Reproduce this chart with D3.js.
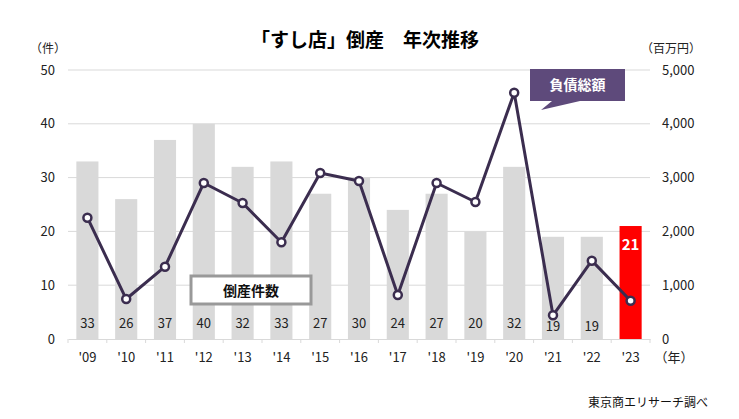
<!DOCTYPE html>
<html><head><meta charset="utf-8">
<script src="https://cdn.jsdelivr.net/npm/d3@7"></script>
<style>body{margin:0;background:#fff;} svg{display:block;font-family:"Noto Sans CJK JP","Noto Sans",sans-serif;}</style>
</head><body>
<svg id="c" width="739" height="419"></svg>
<script>
const years = ["'09","'10","'11","'12","'13","'14","'15","'16","'17","'18","'19","'20","'21","'22","'23"];
const counts = [33,26,37,40,32,33,27,30,24,27,20,32,19,19,21];
const debt = [2255,743,1344,2900,2528,1797,3086,2937,818,2900,2546,4578,440,1456,712];
const leftTicks = [0,10,20,30,40,50];
const rightTicks = [0,1000,2000,3000,4000,5000];
const title = "「すし店」倒産　年次推移";

const svg = d3.select("#c");
const L = 68, R = 650, T = 70, B = 339;
const x = d3.scaleBand().domain(years).range([L, R]).paddingInner(0.43).paddingOuter(0.215);
const yL = d3.scaleLinear().domain([0,50]).range([B, T]);
const yR = d3.scaleLinear().domain([0,5000]).range([B, T]);

// title
svg.append("text").attr("x", 365).attr("y", 47).attr("text-anchor","middle")
  .attr("font-size", 19).attr("font-weight","bold").attr("fill","#000").text(title);

// gridlines
svg.append("g").selectAll("line").data(leftTicks.slice(1)).join("line")
  .attr("x1", L).attr("x2", R).attr("y1", d=>yL(d)).attr("y2", d=>yL(d))
  .attr("stroke","#d9d9d9").attr("stroke-width",1);

// bars
svg.append("g").selectAll("rect").data(counts).join("rect")
  .attr("x", (d,i)=>x(years[i])).attr("width", x.bandwidth())
  .attr("y", d=>yL(d)).attr("height", d=>B - yL(d))
  .attr("fill", (d,i)=> i===counts.length-1 ? "#ff0000" : "#d9d9d9");

// x axis
const xAxis = d3.axisBottom(x).tickSize(0).tickFormat(d=>d);
const gx = svg.append("g").attr("transform",`translate(0,${B})`).call(xAxis);
gx.select(".domain").attr("stroke","#d9d9d9");
gx.selectAll("text").attr("font-size",13).attr("fill","#222").attr("dy","1.5em")
  .attr("font-family",'"Noto Sans CJK JP",sans-serif');
// band boundary ticks
const bounds = years.map(y => x(y) - x.step()*x.paddingInner()/2).concat([R]);
svg.append("g").selectAll("line").data(bounds).join("line")
  .attr("x1", d=>d).attr("x2", d=>d).attr("y1", B).attr("y2", B+4)
  .attr("stroke","#d9d9d9");

// left axis
const gl = svg.append("g").attr("transform",`translate(${L},0)`)
  .call(d3.axisLeft(yL).tickValues(leftTicks).tickSize(0).tickPadding(13));
gl.select(".domain").remove();
gl.selectAll("text").attr("font-size",13).attr("fill","#222").attr("font-family",'"Noto Sans CJK JP",sans-serif');

// right axis
const gr = svg.append("g").attr("transform",`translate(${R},0)`)
  .call(d3.axisRight(yR).tickValues(rightTicks).tickSize(0).tickPadding(12).tickFormat(d3.format(",")));
gr.select(".domain").remove();
gr.selectAll("text").attr("font-size",13).attr("fill","#222").attr("font-family",'"Noto Sans CJK JP",sans-serif');

// unit labels
svg.append("text").attr("x",48).attr("y",53).attr("text-anchor","middle").attr("font-size",12).attr("fill","#222").text("（件）");
svg.append("text").attr("x",671).attr("y",53).attr("text-anchor","middle").attr("font-size",12).attr("fill","#222").text("（百万円）");
svg.append("text").attr("x",674).attr("y",362).attr("text-anchor","middle").attr("font-size",13).attr("fill","#222").text("（年）");

// bar value labels
svg.append("g").selectAll("text").data(counts).join("text")
  .attr("x",(d,i)=>x(years[i]) + x.bandwidth()/2)
  .attr("y",(d,i)=> i===counts.length-1 ? yL(d)+24 : (d < 20 ? B-8 : B-11))
  .attr("text-anchor","middle")
  .attr("font-size",(d,i)=> i===counts.length-1 ? 15 : 13)
  .attr("font-weight",(d,i)=> i===counts.length-1 ? "bold" : "normal")
  .attr("fill",(d,i)=> i===counts.length-1 ? "#fff" : "#222")
  .text(d=>d);

// line
const cx = i => x(years[i]) + x.bandwidth()/2;
svg.append("path").datum(debt)
  .attr("d", d3.line().x((d,i)=>cx(i)).y(d=>yR(d)))
  .attr("fill","none").attr("stroke","#3b2d4f").attr("stroke-width",3).attr("stroke-linejoin","round");
svg.append("g").selectAll("circle").data(debt).join("circle")
  .attr("cx",(d,i)=>cx(i)).attr("cy",d=>yR(d)).attr("r",4)
  .attr("fill","#fff").attr("stroke","#3b2d4f").attr("stroke-width",2.5);

// callout for debt
svg.append("path").attr("d","M530,69 L625,69 L625,101 L580,101 L541,110 L552,101 L530,101 Z")
  .attr("fill","#5e4a7b");
svg.append("text").attr("x",577.5).attr("y",90).attr("text-anchor","middle").attr("font-size",14)
  .attr("font-weight","bold").attr("fill","#fff").text("負債総額");

// legend box for counts
svg.append("rect").attr("x",191).attr("y",276).attr("width",120).attr("height",28)
  .attr("fill","#fff").attr("stroke","#999").attr("stroke-width",3);
svg.append("text").attr("x",251).attr("y",296).attr("text-anchor","middle").attr("font-size",14)
  .attr("font-weight","bold").attr("fill","#111").text("倒産件数");

// source
svg.append("text").attr("x",708).attr("y",407).attr("text-anchor","end").attr("font-size",12)
  .attr("fill","#111").text("東京商エリサーチ調べ");
</script>
</body></html>
